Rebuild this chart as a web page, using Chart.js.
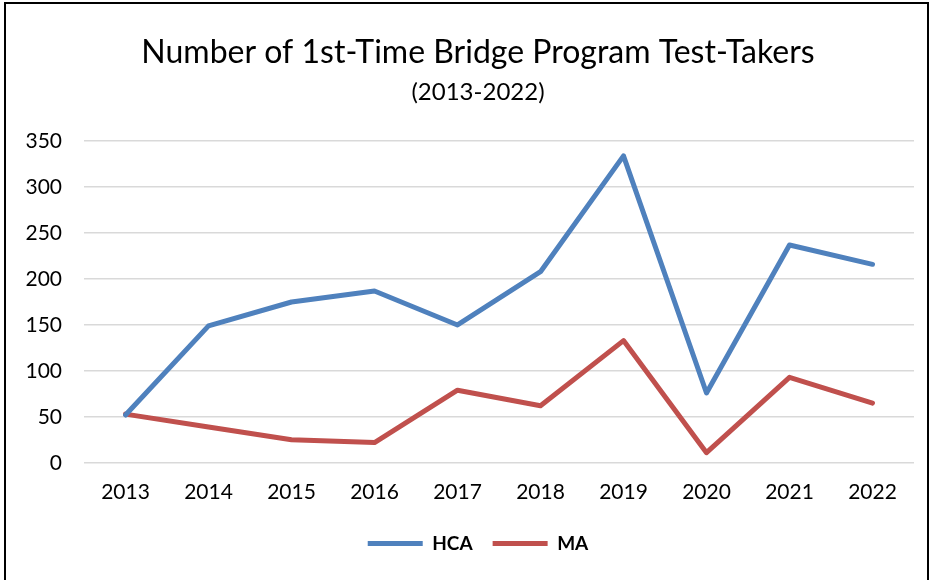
<!DOCTYPE html>
<html>
<head>
<meta charset="utf-8">
<script src="https://cdn.jsdelivr.net/npm/chart.js@4"></script>
<style>
  html, body { margin: 0; padding: 0; background: #fff; }
  #wrap { width: 933px; height: 580px; position: relative; }
</style>
</head>
<body>
<div id="wrap"><canvas id="testChart" width="933" height="580"></canvas></div>
<script>
var years = ["2013", "2014", "2015", "2016", "2017", "2018", "2019", "2020", "2021", "2022"];
var hcaValues = [52, 149, 175, 187, 150, 208, 334, 76, 237, 216];
var maValues = [53, 39, 25, 22, 79, 62, 133, 11, 93, 65];

var frame = {
    id: "frame",
    beforeDraw: function(chart) {
        var c = chart.ctx;
        c.save();
        c.fillStyle = "#fff";
        c.fillRect(0, 0, chart.width, chart.height);
        c.strokeStyle = "#000";
        c.lineWidth = 2;
        c.strokeRect(5, 3, 923, 600);
        c.restore();
    },
    // titles and legend sit a little right of the page centre in the original
    afterLayout: function(chart) {
        chart.boxes.forEach(function(b) {
            if (!b.axis && b.fullSize) {
                b.left += 12;
                b.right += 12;
            }
        });
    }
};

var font = "Lato, 'Open Sans', sans-serif";

var ctx = document.getElementById("testChart").getContext("2d");
var chart = new Chart(ctx, {
    type: "line",
    data: {
        labels: years,
        datasets: [{
            label: "HCA",
            data: hcaValues,
            borderColor: "#4F81BD",
            backgroundColor: "#4F81BD",
            borderWidth: 5,
            pointRadius: 0,
            tension: 0,
            borderCapStyle: "round",
            borderJoinStyle: "round"
        }, {
            label: "MA",
            data: maValues,
            borderColor: "#C0504D",
            backgroundColor: "#C0504D",
            borderWidth: 5,
            pointRadius: 0,
            tension: 0,
            borderCapStyle: "round",
            borderJoinStyle: "round"
        }]
    },
    options: {
        responsive: false,
        animation: false,
        layout: { padding: { left: 18, right: 19, top: 0, bottom: 17 } },
        plugins: {
            title: {
                display: true,
                text: "Number of 1st-Time Bridge Program Test-Takers",
                color: "#000",
                font: { family: font, size: 32, weight: "normal" },
                padding: { top: 33, bottom: 6 }
            },
            subtitle: {
                display: true,
                text: "(2013-2022)",
                color: "#000",
                font: { family: font, size: 24, weight: "normal" },
                padding: { top: 0, bottom: 35 }
            },
            legend: {
                position: "bottom",
                labels: {
                    color: "#000",
                    font: { family: font, size: 19, weight: "bold" },
                    boxWidth: 55,
                    boxHeight: 5,
                    padding: 20,
                    generateLabels: function(ch) {
                        return ch.data.datasets.map(function(ds, i) {
                            return {
                                text: ds.label,
                                fillStyle: ds.borderColor,
                                strokeStyle: ds.borderColor,
                                lineWidth: 0,
                                datasetIndex: i
                            };
                        });
                    }
                }
            },
            tooltip: { enabled: false }
        },
        scales: {
            x: {
                offset: true,
                grid: { display: false },
                border: { display: false },
                ticks: { color: "#000", font: { family: font, size: 21 }, padding: 9, maxRotation: 0 }
            },
            y: {
                min: 0,
                max: 350,
                ticks: { stepSize: 50, color: "#000", font: { family: font, size: 21 }, padding: 22 },
                grid: { color: "#d9d9d9", lineWidth: 1.5, drawTicks: false },
                border: { display: false },
                afterFit: function(scale) { scale.width = 66; }
            }
        }
    },
    plugins: [frame]
});
</script>
</body>
</html>
